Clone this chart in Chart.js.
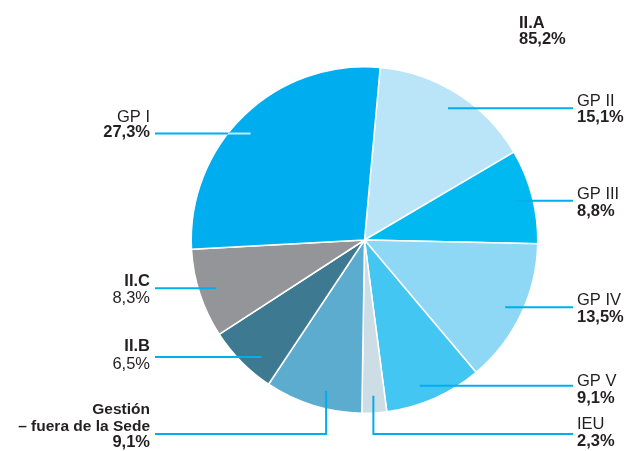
<!DOCTYPE html>
<html>
<head>
<meta charset="utf-8">
<script src="https://cdn.jsdelivr.net/npm/chart.js@4.4.1/dist/chart.umd.min.js"></script>
<style>
  body { margin: 0; background: #fff; }
  #wrap { width: 627px; height: 451px; }
</style>
</head>
<body>
<div id="wrap"><canvas id="pieChart" width="627" height="451"></canvas></div>
<script>
const categories = ["GP II", "GP III", "GP IV", "GP V", "IEU", "Gestión – fuera de la Sede", "II.B", "II.C", "GP I"];
const shares = [15.1, 8.8, 13.5, 9.1, 2.3, 9.1, 6.5, 8.3, 27.3];
const shareLabels = ["15,1%", "8,8%", "13,5%", "9,1%", "2,3%", "9,1%", "6,5%", "8,3%", "27,3%"];
const nameLines = [["GP II"], ["GP III"], ["GP IV"], ["GP V"], ["IEU"], ["Gestión", "– fuera de la Sede"], ["II.B"], ["II.C"], ["GP I"]];
const groupTitle = "II.A";
const groupShare = "85,2%";

const colors = [
    '#bae4f8',
    '#00b9f1',
    '#8ed8f6',
    '#43c6f2',
    '#ccdde5',
    '#5bacce',
    '#3d7a92',
    '#939598',
    '#00aeef'
];

// how each label sits: side, kind of leader, text weights, baseline offsets from the leader
const labelLayout = [
    { side: 'right', nameBold: false, valBold: true, nameDy: -2, valDy: 14 },
    { side: 'right', nameBold: false, valBold: true, nameDy: -2, valDy: 15 },
    { side: 'right', nameBold: false, valBold: true, nameDy: -2, valDy: 15 },
    { side: 'right', angleAdj: 3, nameBold: false, valBold: true, nameDy: 0, valDy: 17 },
    { side: 'right', elbow: true, nameBold: false, valBold: true, nameDy: -5, valDy: 12 },
    { side: 'left', elbow: true, angleAdj: -3, nameBold: true, nameSize: 15.5, valBold: true, nameDy: -20, valDy: 13 },
    { side: 'left', angleAdj: -4, nameBold: true, valBold: false, nameDy: -6, valDy: 12 },
    { side: 'left', nameBold: true, valBold: false, nameDy: -2, valDy: 15 },
    { side: 'left', angleAdj: -3, inner: 'rgba(255,255,255,0.75)', nameBold: false, valBold: true, nameDy: -12, valDy: 3 }
];

const FONT = '"Liberation Sans", Arial, sans-serif';
const lineColor = '#00aeef';
const textColor = '#231f20';

const leaderPlugin = {
    id: 'leaders',
    afterDraw(chart) {
        const ctx = chart.ctx;
        const meta = chart.getDatasetMeta(0);
        const leftX = 150, rightX = 577, elbowY = 434;
        ctx.save();
        meta.data.forEach((arc, i) => {
            const lay = labelLayout[i];
            const p = arc.getProps(['x', 'y', 'startAngle', 'endAngle', 'outerRadius'], true);
            const mid = (p.startAngle + p.endAngle) / 2 + (lay.angleAdj || 0) * Math.PI / 180;
            const r = p.outerRadius * 0.9;
            const ax = p.x + Math.cos(mid) * r;
            const ay = p.y + Math.sin(mid) * r;
            const endX = lay.side === 'left' ? leftX + 5 : rightX - 4;
            const ly = lay.elbow ? elbowY : ay;

            ctx.lineWidth = 2;
            ctx.strokeStyle = lineColor;
            ctx.beginPath();
            ctx.moveTo(ax, ay);
            if (lay.elbow) ctx.lineTo(ax, ly);
            ctx.lineTo(endX, ly);
            ctx.stroke();

            if (lay.inner) {
                // part of the leader inside a slice of the same colour
                const edgeX = p.x - Math.sqrt(Math.max(p.outerRadius * p.outerRadius - (ay - p.y) * (ay - p.y), 0));
                ctx.strokeStyle = lay.inner;
                ctx.beginPath();
                ctx.moveTo(ax, ay);
                ctx.lineTo(edgeX, ay);
                ctx.stroke();
            }

            ctx.fillStyle = textColor;
            ctx.textBaseline = 'alphabetic';
            ctx.textAlign = lay.side === 'left' ? 'right' : 'left';
            const tx = lay.side === 'left' ? leftX : rightX;
            const names = nameLines[i];
            ctx.font = (lay.nameBold ? 'bold ' : '') + (lay.nameSize || 16.5) + 'px ' + FONT;
            names.forEach((t, k) => {
                ctx.fillText(t, tx, ly + lay.nameDy + k * 17);
            });
            ctx.font = (lay.valBold ? 'bold ' : '') + '16.5px ' + FONT;
            ctx.fillText(shareLabels[i], tx, ly + lay.valDy);
        });

        ctx.textAlign = 'left';
        ctx.font = 'bold 16.5px ' + FONT;
        ctx.fillText(groupTitle, 519, 28);
        ctx.fillText(groupShare, 519, 44);
        ctx.restore();
    }
};

const pieElement = document.getElementById('pieChart').getContext('2d');
const pieChart = new Chart(pieElement, {
    type: 'pie',
    data: {
        labels: categories,
        datasets: [{
            label: 'Distribución',
            data: shares,
            backgroundColor: colors,
            borderColor: '#ffffff',
            borderWidth: 1.5
        }]
    },
    options: {
        responsive: false,
        animation: false,
        rotation: 5.2,
        layout: {
            padding: { top: 66, bottom: 37, left: 190.5, right: 88.5 }
        },
        plugins: {
            legend: { display: false },
            tooltip: { enabled: false }
        }
    },
    plugins: [leaderPlugin]
});
</script>
</body>
</html>
